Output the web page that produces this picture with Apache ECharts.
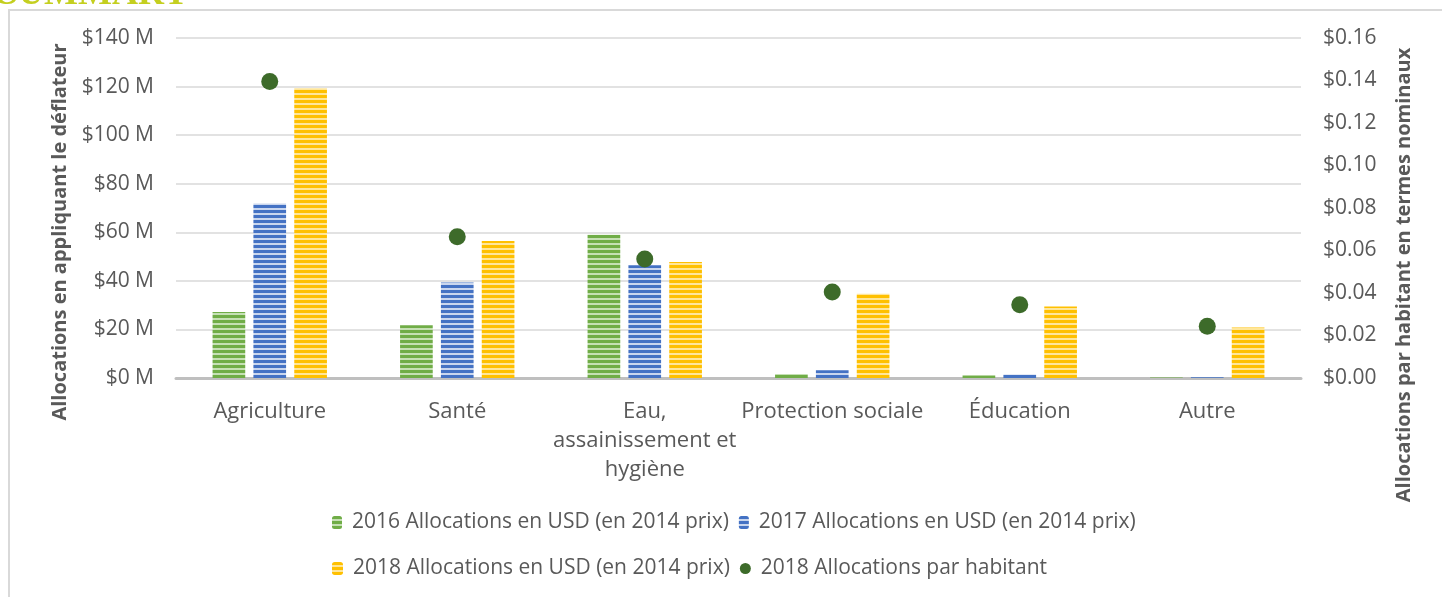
<!DOCTYPE html>
<html><head><meta charset="utf-8">
<script src="https://cdn.jsdelivr.net/npm/echarts@6/dist/echarts.min.js"></script>
<style>html,body{margin:0;padding:0;background:#fff}#c{width:1442px;height:597px}</style>
</head><body><div id="c"></div>
<script>
const categories = ['Agriculture', 'Santé', 'Eau,\nassainissement et\nhygiène', 'Protection sociale', 'Éducation', 'Autre'];
const alloc2016 = [27.2, 21.7, 59.0, 1.6, 1.0, 0.2];
const alloc2017 = [71.9, 39.3, 46.4, 3.2, 1.4, 0.3];
const alloc2018 = [119.3, 56.4, 47.8, 34.7, 29.4, 20.8];
const perCapita2018 = [0.1395, 0.0665, 0.056, 0.0405, 0.0345, 0.0243];
const leftTicks = {min: 0, max: 140, interval: 20};
const rightTicks = {min: 0, max: 0.16, interval: 0.02};
const seriesNames = ['2016 Allocations en USD (en 2014 prix)', '2017 Allocations en USD (en 2014 prix)', '2018 Allocations en USD (en 2014 prix)', '2018 Allocations par habitant'];

function stripes(main, light) {
  const c = document.createElement('canvas');
  c.width = 4; c.height = 5;
  const g = c.getContext('2d');
  g.fillStyle = main; g.fillRect(0, 0, 4, 3);
  g.fillStyle = light; g.fillRect(0, 3, 4, 2);
  return {image: c, repeat: 'repeat'};
}
const green = stripes('#70ad47', '#c5e0b4');
const blue = stripes('#4472c4', '#c9d6ee');
const yellow = stripes('#ffc000', '#ffe699');
const txt = '#595959';
const font = 'Open Sans';
const legendText = {color: txt, fontSize: 21, fontFamily: font, padding: [0, 0, 0, 5]};

const chart = echarts.init(document.getElementById('c'));
chart.setOption({
  animation: false,
  textStyle: {fontFamily: font},
  graphic: [
    {type: 'rect', shape: {x: 9, y: 10, width: 1500, height: 700}, style: {fill: 'none', stroke: '#d9d9d9', lineWidth: 2}, silent: true},
    {type: 'text', left: -2, top: -23, style: {text: 'SUMMARY', font: 'bold 36px "Liberation Serif"', fill: '#c4cf1f'}},
    {type: 'text', x: 60, y: 232, rotation: Math.PI / 2, style: {text: 'Allocations en appliquant le déflateur', font: 'bold 20px "Open Sans"', fill: txt, align: 'center', verticalAlign: 'middle'}},
    {type: 'text', x: 1404, y: 275, rotation: Math.PI / 2, style: {text: 'Allocations par habitant en termes nominaux', font: 'bold 20px "Open Sans"', fill: txt, align: 'center', verticalAlign: 'middle'}}
  ],
  grid: {left: 176, right: 141, top: 38, bottom: 219, containLabel: false},
  legend: [
    {data: [{name: seriesNames[0]}, {name: seriesNames[1]}], left: 327, top: 507, itemWidth: 10, itemHeight: 13, itemGap: 10, textStyle: legendText},
    {data: [{name: seriesNames[2]}, {name: seriesNames[3], icon: 'circle'}], left: 327, top: 553, itemWidth: 11, itemHeight: 13, itemGap: 10, textStyle: legendText}
  ],
  xAxis: {
    type: 'category', data: categories,
    axisLine: {show: true, lineStyle: {color: '#bfbfbf', width: 3}},
    axisTick: {show: false},
    axisLabel: {color: txt, fontSize: 22, margin: 19, lineHeight: 29, interval: 0}
  },
  yAxis: [
    {type: 'value', min: leftTicks.min, max: leftTicks.max, interval: leftTicks.interval,
     axisLabel: {color: txt, fontSize: 21, margin: 22, formatter: v => '$' + v + ' M'},
     axisLine: {show: false}, axisTick: {show: false},
     splitLine: {lineStyle: {color: '#d9d9d9', width: 1.5}}},
    {type: 'value', min: rightTicks.min, max: rightTicks.max, interval: rightTicks.interval,
     axisLabel: {color: txt, fontSize: 21, margin: 22, formatter: v => '$' + v.toFixed(2)},
     axisLine: {show: false}, axisTick: {show: false}, splitLine: {show: false}}
  ],
  series: [
    {name: seriesNames[0], type: 'bar', data: alloc2016, itemStyle: {color: green}, barGap: '25%', barCategoryGap: '39%'},
    {name: seriesNames[1], type: 'bar', data: alloc2017, itemStyle: {color: blue}},
    {name: seriesNames[2], type: 'bar', data: alloc2018, itemStyle: {color: yellow}},
    {name: seriesNames[3], type: 'scatter', yAxisIndex: 1, data: perCapita2018, symbolSize: 17, itemStyle: {color: '#3d6b2a', opacity: 1}, z: 5}
  ]
});
</script></body></html>
